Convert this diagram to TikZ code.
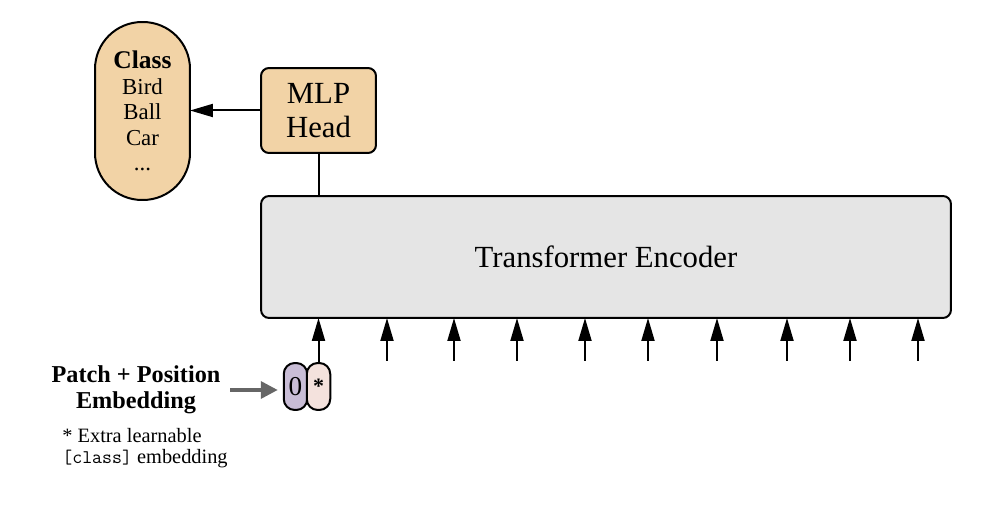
\documentclass[tikz,border=0pt]{standalone}
\usepackage{fontspec}
\setmainfont{Liberation Serif}
\usetikzlibrary{arrows.meta}

\definecolor{headfill}{HTML}{F2D3A6}
\definecolor{encfill}{HTML}{E5E5E5}
\definecolor{clsfill}{HTML}{C9BDD6}
\definecolor{extrafill}{HTML}{F4E2DD}
\definecolor{pointer}{HTML}{666666}

\begin{document}
\begin{tikzpicture}[x=.02cm, y=-.02cm,
    box/.style={draw, line width=.4mm, rounded corners=1.6mm, align=center,
        inner sep=0, outer sep=0},
    head/.style={box, fill=headfill, minimum width=2.3cm,
        minimum height=1.7cm, font=\fontsize{17.5}{19.5}\selectfont},
    encoder/.style={box, fill=encfill, minimum width=13.8cm,
        minimum height=2.44cm, font=\fontsize{17.5}{19}\selectfont},
    pill/.style={box, fill=headfill, rounded corners=9.4mm,
        minimum width=1.9cm, minimum height=3.56cm,
        font=\fontsize{13}{14.6}\selectfont},
    token/.style={box, rounded corners=2.2mm, minimum width=.47cm,
        minimum height=.94cm},
    arrow/.style={-{Triangle[length=4.6mm, width=2.6mm]}, line width=.4mm},
    pointer/.style={-{Triangle[length=3.4mm, width=3.4mm]}, line width=.7mm,
        draw=pointer},
]
    \useasboundingbox (0, 0) rectangle (981, 506);

    %% the encoder, the head on top of it and the class it points to
    \node[encoder] (enc) at (606, 257) {Transformer Encoder};
    \node[head] (mlp) at (318.5, 110.5) {MLP\\Head};
    \node[pill] (class) at (142.5, 111)
        {{\fontsize{14.5}{14.6}\selectfont\bfseries Class}\\Bird\\Ball\\Car\\...};
    \draw[line width=.4mm] (mlp.south) -- (mlp.south |- enc.north);
    \draw[arrow] (mlp.west) -- (mlp.west -| class.east);

    %% the extra [class] token and its arrow up into the encoder
    \node[token, fill=clsfill, font=\fontsize{15.5}{16}\selectfont]
        (tok0) at (295.5, 386.5) {0};
    \node[token, fill=extrafill, font=\fontsize{12.5}{13}\selectfont\bfseries]
        (tokx) at (318.5, 386.5) {*};
    \draw[arrow] (tokx.north) -- (tokx.north |- enc.south);

    %% the other inputs
    \foreach \x [count=\i] in {387, 454, 517, 585, 648, 717, 787, 850, 918}{
        \coordinate (in-\i) at (\x, 361);
        \draw[arrow] (in-\i) -- (in-\i |- enc.south);
    }

    %% labels on the left
    \node[font=\fontsize{13.8}{14.6}\selectfont\bfseries, align=center,
        inner sep=0] (patch) at (136, 390) {Patch + Position\\Embedding};
    \draw[pointer] ([xshift=1.9mm]patch.east)
        -- ([xshift=-1.2mm]patch.east -| tok0.west);
    \node[font=\fontsize{11.6}{12}\selectfont, align=left, anchor=west,
        inner sep=0] (note) at (62, 448)
        {* Extra learnable\\{\fontsize{11}{12}\selectfont\ttfamily [class]}
        embedding};
\end{tikzpicture}
\end{document}
